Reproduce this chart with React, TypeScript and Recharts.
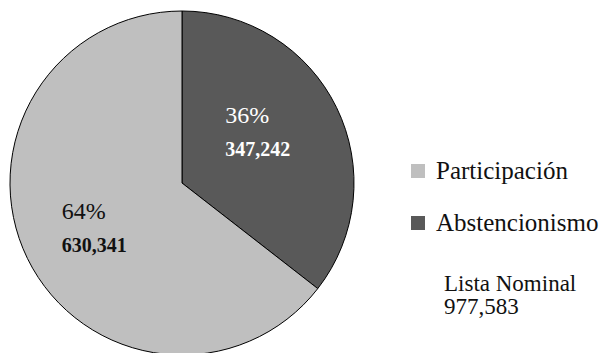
import React from 'react';
import { PieChart, Pie, Cell, Legend } from 'recharts';

// categories and values (in drawing order: clockwise from 12 o'clock)
const categories = ['Abstencionismo', 'Participación'];
const votes = [347242, 630341];
const sliceColors = ['#595959', '#bfbfbf'];
const labelColors = ['#ffffff', '#111111'];
const legendOrder = ['Participación', 'Abstencionismo'];
const totalLabel = 'Lista Nominal';
const totalValue = 977583;

const FONT = '"Liberation Serif", "Times New Roman", serif';
const RADIAN = Math.PI / 180;
// small nudges so the labels sit where the original "best fit" put them
const labelNudge = [
  { dx: -8, dy: -10 },
  { dx: -1, dy: 2 },
];

const data = categories.map((name, i) => ({ name, value: votes[i] }));

const fmt = (v: number) => v.toLocaleString('en-US');

function renderLabel(props: any) {
  const { cx, cy, midAngle, percent, value, index } = props;
  const r = 95;
  const x = cx + r * Math.cos(-midAngle * RADIAN) + labelNudge[index].dx;
  const y = cy + r * Math.sin(-midAngle * RADIAN) + labelNudge[index].dy;
  const left = x - 34;
  return (
    <g>
      <text x={left} y={y - 8} fill={labelColors[index]} fontFamily={FONT} fontSize={24} textAnchor="start">
        {`${Math.round(percent * 100)}%`}
      </text>
      <text x={left} y={y + 25} fill={labelColors[index]} fontFamily={FONT} fontSize={20} fontWeight="bold" textAnchor="start">
        {fmt(value)}
      </text>
    </g>
  );
}

function LegendBox() {
  return (
    <svg width={207} height={175}>
      {legendOrder.map((name, i) => {
        const idx = categories.indexOf(name);
        return (
          <g key={name}>
            <rect x={11} y={14 + i * 52} width={14} height={14} fill={sliceColors[idx]} />
            <text x={36} y={29 + i * 52} fontFamily={FONT} fontSize={25} fill="#111">
              {name}
            </text>
          </g>
        );
      })}
      <text x={44} y={141} fontFamily={FONT} fontSize={23} fill="#111">{totalLabel}</text>
      <text x={44} y={164} fontFamily={FONT} fontSize={23} fill="#111">{fmt(totalValue)}</text>
    </svg>
  );
}

export default function App() {
  return (
    <div style={{ position: 'absolute', left: 0, top: 0, width: 607, height: 353, background: '#fff', overflow: 'hidden' }}>
      <PieChart width={607} height={353} margin={{ top: 0, right: 0, bottom: 0, left: 0 }}>
        <Pie
          data={data}
          dataKey="value"
          nameKey="name"
          cx={182}
          cy={183}
          outerRadius={172}
          startAngle={90}
          endAngle={-270}
          stroke="#000"
          strokeWidth={1}
          label={renderLabel}
          labelLine={false}
          isAnimationActive={false}
        >
          {data.map((d, i) => (
            <Cell key={d.name} fill={sliceColors[i]} />
          ))}
        </Pie>
        <Legend
          content={() => <LegendBox />}
          wrapperStyle={{ position: 'absolute', left: 400, top: 150, width: 207, height: 175 }}
        />
      </PieChart>
    </div>
  );
}
